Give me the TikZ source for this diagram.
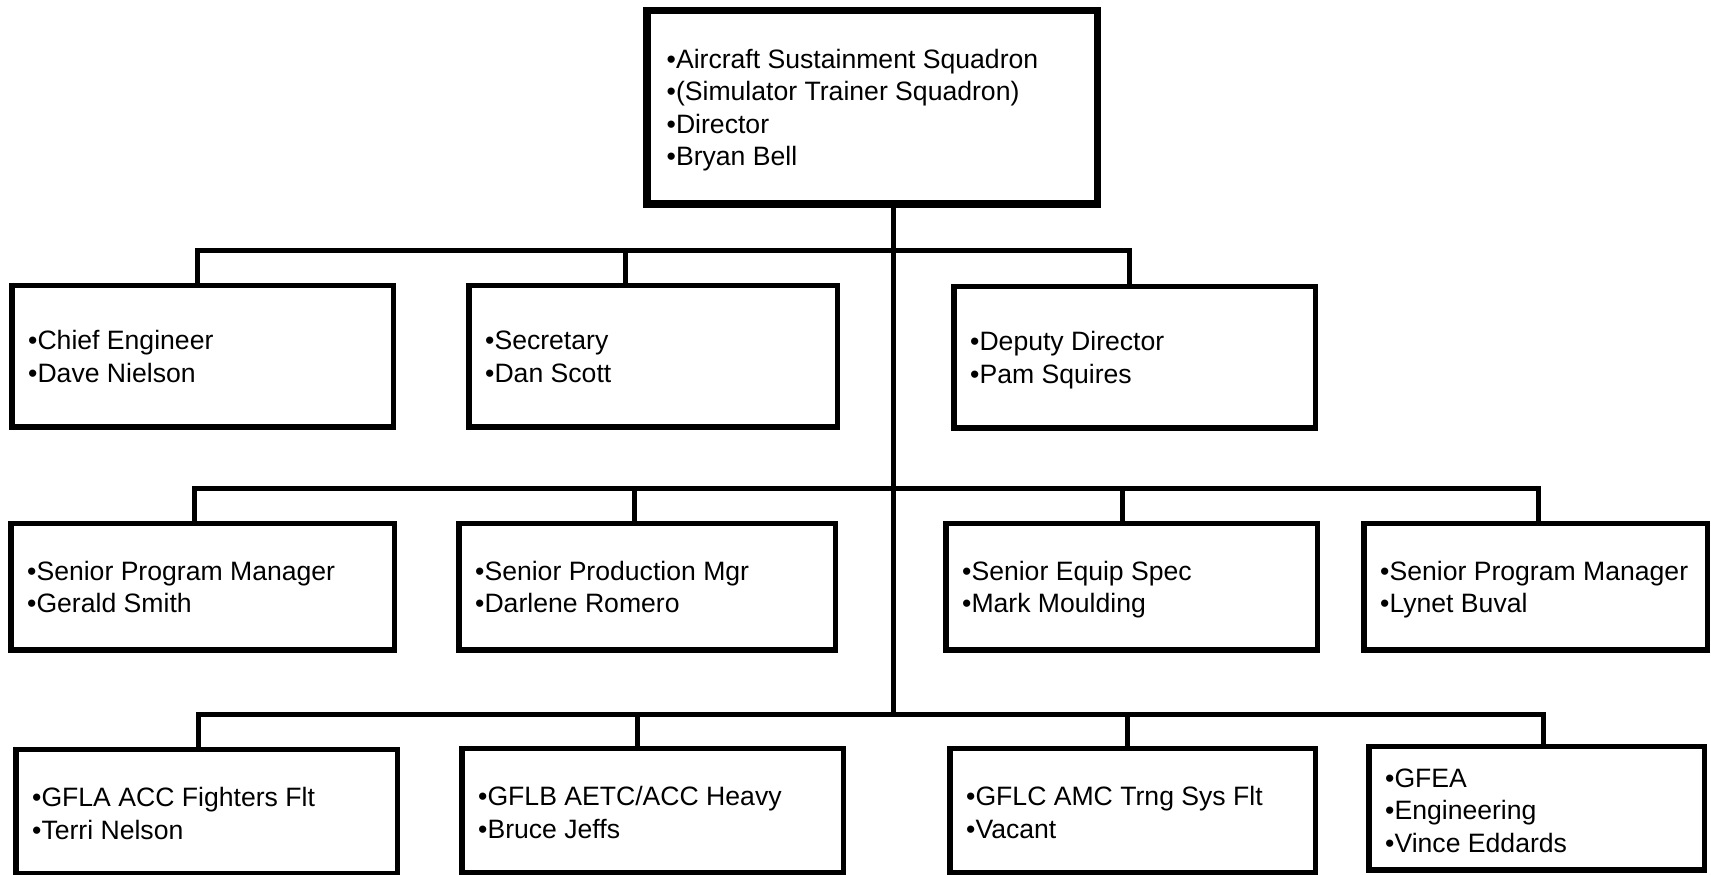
\documentclass[tikz,border=0pt]{standalone}
\usepackage{fontspec}
\setmainfont{Liberation Sans}
\begin{document}
\begin{tikzpicture}[x=1pt,y=1pt,
  box/.style={draw=black, line width=5.5pt, rectangle, inner sep=0pt, fill=white},
  con/.style={line width=5pt, line join=miter},
  txt/.style={anchor=west, align=left, inner sep=0pt, font=\fontsize{26.6}{32.4}\selectfont}]
\useasboundingbox (0,0) rectangle (1711,875);
\fill[white] (0,0) rectangle (1711,875);
\clip (0,0) rectangle (1711,875);

% top box
\node[box, line width=6.6pt, minimum width=451.4pt, minimum height=194.4pt] (top) at (872,767.5) {};
\draw[line width=2.2pt] ([shift={(6.4,-6.4)}]top.north west) rectangle ([shift={(-6.4,6.4)}]top.south east);
\node[txt] (ttop) at ([xshift=23.5pt,yshift=-3pt]top.west) {\strut•Aircraft Sustainment Squadron\\\strut•(Simulator Trainer Squadron)\\\strut•Director\\\strut•Bryan Bell};

% row 1
\node[box, minimum width=381.5pt, minimum height=141.5pt] (b1) at (202.5,518.5) {};
\node[box, minimum width=368.5pt, minimum height=141.5pt] (b2) at (653,518.5) {};
\node[box, minimum width=361.5pt, minimum height=141.5pt] (b3) at (1134.5,517.5) {};
% row 2
\node[box, minimum width=383.5pt, minimum height=126.5pt] (b4) at (202.5,288) {};
\node[box, minimum width=376.5pt, minimum height=126.5pt] (b5) at (647,288) {};
\node[box, minimum width=371.5pt, minimum height=126.5pt] (b6) at (1131.5,288) {};
\node[box, minimum width=343.5pt, minimum height=126.5pt] (b7) at (1535.5,288) {};
% row 3
\node[box, minimum width=381.5pt, minimum height=124.5pt] (b8) at (206.5,63) {};
\node[box, minimum width=381.5pt, minimum height=124.5pt] (b9) at (652.5,64) {};
\node[box, minimum width=365.5pt, minimum height=124.5pt] (b10) at (1132.5,64) {};
\node[box, minimum width=335.5pt, minimum height=123.5pt] (b11) at (1536.5,66.5) {};

% texts
\node[txt] (t1) at ([xshift=19pt,yshift=-3pt]b1.west) {\strut•Chief Engineer\\\strut•Dave Nielson};
\node[txt] (t2) at ([xshift=19pt,yshift=-3pt]b2.west) {\strut•Secretary\\\strut•Dan Scott};
\node[txt] (t3) at ([xshift=19pt,yshift=-3pt]b3.west) {\strut•Deputy Director\\\strut•Pam Squires};
\node[txt] (t4) at ([xshift=19pt,yshift=-3pt]b4.west) {\strut•Senior Program Manager\\\strut•Gerald Smith};
\node[txt] (t5) at ([xshift=19pt,yshift=-3pt]b5.west) {\strut•Senior Production Mgr\\\strut•Darlene Romero};
\node[txt] (t6) at ([xshift=19pt,yshift=-3pt]b6.west) {\strut•Senior Equip Spec\\\strut•Mark Moulding};
\node[txt] (t7) at ([xshift=19pt,yshift=-3pt]b7.west) {\strut•Senior Program Manager\\\strut•Lynet Buval};
\node[txt] (t8) at ([xshift=19pt,yshift=-4.5pt]b8.west) {\strut•GFLA ACC Fighters Flt\\\strut•Terri Nelson};
\node[txt] (t9) at ([xshift=19pt,yshift=-4.5pt]b9.west) {\strut•GFLB AETC/ACC Heavy\\\strut•Bruce Jeffs};
\node[txt] (t10) at ([xshift=19pt,yshift=-4.5pt]b10.west) {\strut•GFLC AMC Trng Sys Flt\\\strut•Vacant};
\node[txt] (t11) at ([xshift=19pt,yshift=-5pt]b11.west) {\strut•GFEA\\\strut•Engineering\\\strut•Vince Eddards};

% connectors
\coordinate (k1) at (197,624);
\coordinate (k2) at (625,624);
\coordinate (k3) at (1129,624);
\coordinate (k4) at (194.5,386.5);
\coordinate (k5) at (634.5,386.5);
\coordinate (k6) at (1122,386.5);
\coordinate (k7) at (1538,386.5);
\coordinate (k8) at (198.5,160);
\coordinate (k9) at (637,160);
\coordinate (k10) at (1127,160);
\coordinate (k11) at (1543.5,160);
\coordinate (tr) at (893,160);

\draw[con] (k1 |- b1.north) -- (k1) -- (k3) -- (k3 |- b3.north);
\draw[con] (k2) -- (k2 |- b2.north);
\draw[con] (k4 |- b4.north) -- (k4) -- (k7) -- (k7 |- b7.north);
\draw[con] (k5) -- (k5 |- b5.north);
\draw[con] (k6) -- (k6 |- b6.north);
\draw[con] (k8 |- b8.north) -- (k8) -- (k11) -- (k11 |- b11.north);
\draw[con] (k9) -- (k9 |- b9.north);
\draw[con] (k10) -- (k10 |- b10.north);
\draw[con] (tr |- top.south) -- (tr);
\end{tikzpicture}
\end{document}
